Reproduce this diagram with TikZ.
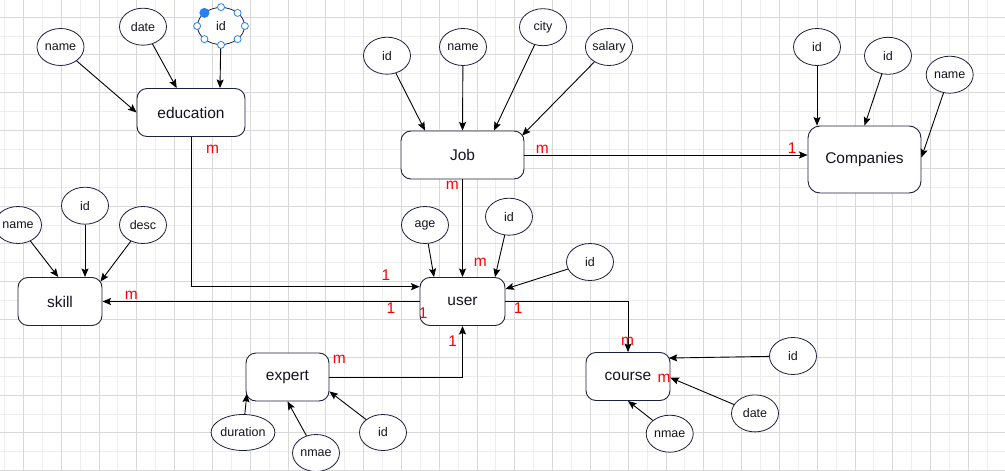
\documentclass[tikz,border=0pt]{standalone}
\usepackage{fontspec}
\setmainfont{Liberation Sans}
\usetikzlibrary{shapes.geometric,arrows.meta}
\definecolor{gridlight}{RGB}{238,238,238}
\definecolor{griddark}{RGB}{216,216,216}
\definecolor{outline}{RGB}{30,32,64}
\definecolor{cardred}{RGB}{255,0,0}
\definecolor{handleblue}{RGB}{41,128,245}
\definecolor{inktext}{RGB}{20,20,30}

\begin{document}
\begin{tikzpicture}[x=1pt,y=-1pt,
  entity/.style={rectangle, draw=outline, fill=white, line width=0.9pt,
    rounded corners=10pt, inner sep=0pt, text=inktext,
    font=\fontsize{15.5}{18}\selectfont},
  attr/.style={ellipse, draw=outline, fill=white, line width=0.8pt,
    minimum width=47pt, minimum height=37pt, inner sep=0pt, text=inktext,
    font=\fontsize{12.5}{14}\selectfont},
  link/.style={draw=black, line width=0.9pt,
    -{Stealth[length=8.5pt,width=7pt,inset=1.5pt]}},
  card/.style={text=cardred, font=\fontsize{15.5}{18}\selectfont, inner sep=0pt},
  handle/.style={circle, draw=handleblue, fill=white, line width=0.8pt,
    minimum size=7pt, inner sep=0pt},
  handlemain/.style={circle, fill=handleblue, minimum size=10pt, inner sep=0pt}
]
% page and background grid
\fill[white] (0,0) rectangle (1005,471);
\useasboundingbox (0,0) rectangle (1005,471);
\foreach \k in {0,...,26} \draw[gridlight, line width=0.8pt] ({4.4+37.8*\k},0) -- ({4.4+37.8*\k},471);
\foreach \k in {0,...,11} \draw[gridlight, line width=0.8pt] (0,{35.9+37.8*\k}) -- (1005,{35.9+37.8*\k});
\foreach \k in {0,...,25} \draw[griddark, line width=0.8pt] ({23.3+37.8*\k},0) -- ({23.3+37.8*\k},471);
\foreach \k in {0,...,12} \draw[griddark, line width=0.8pt] (0,{17+37.8*\k}) -- (1005,{17+37.8*\k});

% entities
\node[entity, minimum width=108pt, minimum height=48pt] (edu) at (191,112.5) {education};
\node[entity, minimum width=123pt, minimum height=48pt] (job) at (462.5,155) {Job};
\node[entity, minimum width=113pt, minimum height=67pt, rounded corners=12pt] (comp) at (864.5,159.5) {Companies};
\node[entity, minimum width=84pt, minimum height=48pt] (skill) at (60,301.5) {skill};
\node[entity, minimum width=85pt, minimum height=48pt] (user) at (462.5,301.5) {user};
\node[entity, minimum width=83pt, minimum height=48pt] (expert) at (287.5,377) {expert};
\node[entity, minimum width=84pt, minimum height=48pt] (course) at (628,376.5) {course};

% attributes
\node[attr] (eName) at (60.5,47) {name};
\node[attr] (eDate) at (143,26.7) {date};
\node[attr, minimum height=37pt] (eId) at (221,26) {id};

\node[attr] (jId) at (387,55.7) {id};
\node[attr] (jName) at (463,47) {name};
\node[attr] (jCity) at (543,27.2) {city};
\node[attr] (jSalary) at (609,47) {salary};

\node[attr] (cId1) at (817,47) {id};
\node[attr] (cId2) at (888,55.8) {id};
\node[attr] (cName) at (949.7,74.7) {name};

\node[attr] (sName) at (18,225) {name};
\node[attr] (sId) at (85,205.7) {id};
\node[attr] (sDesc) at (143,225) {desc};

\node[attr] (uAge) at (425,225) {age};
\node[attr] (uId) at (509,216.7) {id};
\node[attr] (uId2) at (590,262) {id};

\node[attr, minimum width=61pt, minimum height=36pt] (xDur) at (243,432.5) {duration};
\node[attr] (xName) at (316,453) {nmae};
\node[attr, minimum height=36pt] (xId) at (383,432.5) {id};

\node[attr] (kId) at (793,356) {id};
\node[attr] (kDate) at (755,413.4) {date};
\node[attr] (kName) at (669.7,433.7) {nmae};

% attribute links
\draw[link] (eName) -- (edu.west);
\draw[link] (eDate) -- ([xshift=-14.3pt]edu.north);
\draw[link] (eId) -- ([xshift=29pt]edu.north);

\draw[link] (jId) -- ([xshift=-37.5pt]job.north);
\draw[link] (jName) -- (job.north);
\draw[link] (jCity) -- ([xshift=31.5pt]job.north);
\draw[link] (jSalary) -- ([xshift=-2.3pt,yshift=-5pt]job.north east);

\draw[link] (cId1) -- ([xshift=-47.5pt]comp.north);
\draw[link] (cId2) -- (comp.north);
\draw[link] (cName) -- ([yshift=2pt]comp.east);

\draw[link] (sName) -- ([xshift=-1.7pt]skill.north);
\draw[link] (sId) -- ([xshift=25pt]skill.north);
\draw[link] (sDesc) -- ([xshift=-2pt,yshift=-4.5pt]skill.north east);

\draw[link] (uAge) -- ([xshift=-28.5pt]user.north);
\draw[link] (uId) -- ([xshift=32.5pt]user.north);
\draw[link] (uId2) -- ([yshift=12.5pt]user.east);

\draw[link] (xDur) -- ([xshift=1.3pt,yshift=7.7pt]expert.south west);
\draw[link] (xName) -- (expert.south);
\draw[link] (xId) -- ([yshift=10pt]expert.south east);

\draw[link] (kId) -- ([xshift=-1.7pt,yshift=-6pt]course.north east);
\draw[link] (kDate) -- ([yshift=-1.2pt]course.east);
\draw[link] (kName) -- (course.south);

% relationships
\draw[link] (job.east) -- (job.east -| comp.west);
\draw[link] (job.south) -- (user.north);
\draw[link] (edu.south) |- ([yshift=14.8pt]user.west);
\draw[link] (user.west) -- (user.west -| skill.east);
\draw[link] (user.east) -| (course.north);
\draw[link] (expert.east) -| (user.south);

% cardinalities
\node[card] (l1) at (212.7,149) {m};
\node[card] (l2) at (542.3,149) {m};
\node[card] (l3) at (792.3,147.7) {1};
\node[card] (l4) at (452.3,185.7) {m};
\node[card] (l5) at (480.3,262.7) {m};
\node[card] (l6) at (386,275) {1};
\node[card] (l7) at (391,308.3) {1};
\node[card] (l8) at (423.3,312.7) {1};
\node[card] (l9) at (518.3,308.3) {1};
\node[card] (l10) at (131.3,295) {m};
\node[card] (l11) at (627.7,341) {m};
\node[card] (l12) at (339.3,359.3) {m};
\node[card] (l13) at (452.7,341) {1};
\node[card] (l14) at (664,378.3) {m};

% selection handles around the education id attribute
\node[handle] (hN) at (eId.north) {};
\node[handle] (hS) at (eId.south) {};
\node[handle] (hW) at (eId.west) {};
\node[handle] (hE) at (eId.east) {};
\node[handle] (hNE) at ([xshift=16.6pt,yshift=13.1pt]eId.center) {};
\node[handle] (hSW) at ([xshift=-16.6pt,yshift=-13.1pt]eId.center) {};
\node[handle] (hSE) at ([xshift=16.6pt,yshift=-13.1pt]eId.center) {};
\node[handlemain] (hNW) at ([xshift=-16.6pt,yshift=13.1pt]eId.center) {};
\end{tikzpicture}
\end{document}
